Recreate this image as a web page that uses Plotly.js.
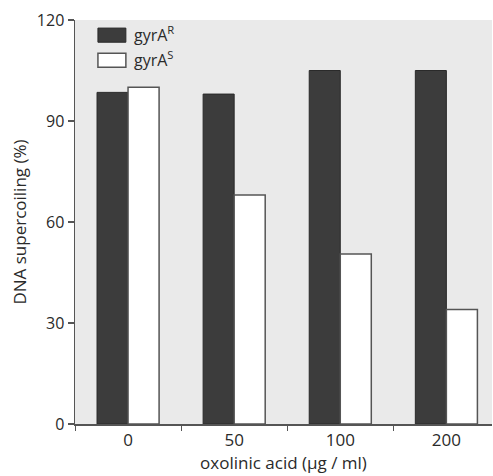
<!DOCTYPE html>
<html>
<head>
<meta charset="utf-8">
<script src="https://cdn.plot.ly/plotly-3.0.1.min.js"></script>
<style>html,body{margin:0;padding:0;background:#fff;}#chart{width:493px;height:476px;}</style>
</head>
<body>
<div id="chart"></div>
<script>
const categories = ["0", "50", "100", "200"];
const seriesNames = ["gyrA<sup>R</sup>", "gyrA<sup>S</sup>"];
const gyrAR = [98.5, 98, 105, 105];
const gyrAS = [100, 68, 50.5, 34];
const yTicks = [0, 30, 60, 90, 120];

const font = "Open Sans, Noto Sans, sans-serif";

const traces = [
  {
    type: "bar", name: seriesNames[0], x: categories, y: gyrAR,
    marker: {color: "#3c3c3c", line: {color: "#2a2a2a", width: 1}},
    showlegend: false, hoverinfo: "skip"
  },
  {
    type: "bar", name: seriesNames[1], x: categories, y: gyrAS,
    marker: {color: "#ffffff", line: {color: "#555555", width: 1.5}},
    showlegend: false, hoverinfo: "skip"
  }
];

const layout = {
  width: 493, height: 476,
  margin: {l: 75, r: 1, t: 20, b: 52},
  paper_bgcolor: "#ffffff",
  plot_bgcolor: "#eaeaea",
  barmode: "group",
  bargap: 0.415,
  bargroupgap: 0,
  font: {family: font, color: "#2a2a2a", size: 16},
  xaxis: {
    type: "category",
    range: [-0.5, 3.43],
    tickson: "boundaries",
    ticks: "outside", ticklen: 5, tickwidth: 1, tickcolor: "#555",
    showline: true, linecolor: "#555", linewidth: 1.5,
    showgrid: false, zeroline: false,
    tickfont: {size: 17, color: "#2a2a2a"},
    title: {text: "oxolinic acid (μg / ml)", font: {size: 17, color: "#2a2a2a"}, standoff: 0}
  },
  yaxis: {
    range: [0, 120],
    tickvals: yTicks,
    ticks: "outside", ticklen: 6, tickwidth: 1.2, tickcolor: "#555",
    showline: true, linecolor: "#555", linewidth: 1.5,
    showgrid: false, zeroline: false,
    tickfont: {size: 16, color: "#2a2a2a"},
    title: {text: "DNA supercoiling (%)", font: {size: 17, color: "#2a2a2a"}, standoff: 6}
  },
  shapes: [
    {type: "rect", xref: "paper", yref: "paper", x0: 0.055, x1: 0.122, y0: 0.945, y1: 0.98,
     fillcolor: "#3c3c3c", line: {color: "#2a2a2a", width: 1}},
    {type: "rect", xref: "paper", yref: "paper", x0: 0.055, x1: 0.122, y0: 0.883, y1: 0.918,
     fillcolor: "#ffffff", line: {color: "#555555", width: 1.5}}
  ],
  annotations: [
    {xref: "paper", yref: "paper", x: 0.136, y: 0.965, xanchor: "left", yanchor: "middle",
     text: seriesNames[0], showarrow: false, font: {size: 16, color: "#2a2a2a"}},
    {xref: "paper", yref: "paper", x: 0.136, y: 0.903, xanchor: "left", yanchor: "middle",
     text: seriesNames[1], showarrow: false, font: {size: 16, color: "#2a2a2a"}}
  ]
};

Plotly.newPlot("chart", traces, layout, {displayModeBar: false, staticPlot: true});
</script>
</body>
</html>
